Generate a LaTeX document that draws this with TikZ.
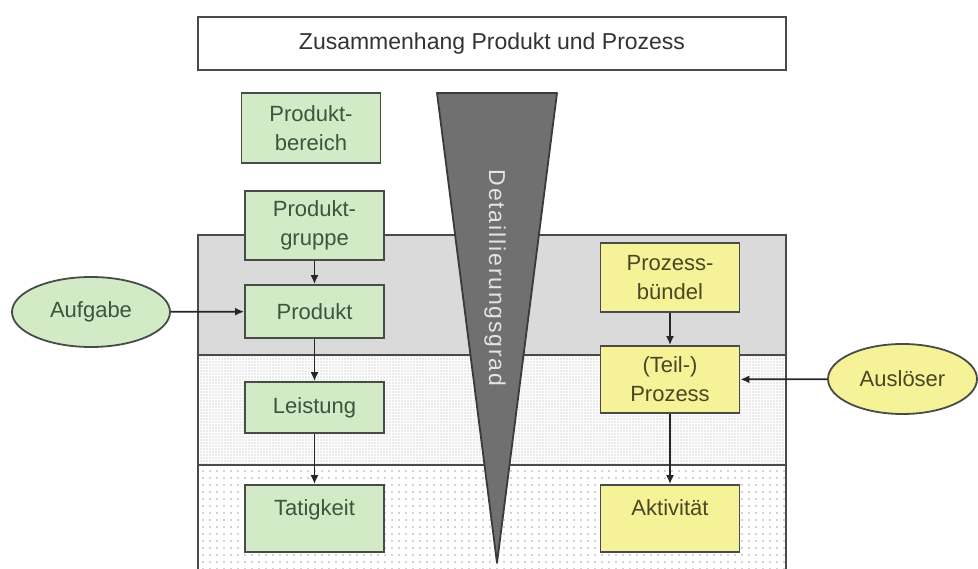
\documentclass[tikz,border=0pt]{standalone}
\usepackage{fontspec}
\setmainfont{Liberation Sans}
\usetikzlibrary{arrows, arrows.meta, shapes.geometric, patterns.meta}
\definecolor{prodgreen}{RGB}{210,234,198}
\definecolor{procyellow}{RGB}{246,242,152}
\definecolor{prodtext}{RGB}{62,84,62}
\definecolor{proctext}{RGB}{72,72,36}
\definecolor{boxline}{RGB}{72,76,72}
\definecolor{bandgray}{RGB}{218,218,218}
\definecolor{dotgray}{RGB}{165,165,165}
\definecolor{wedgegray}{RGB}{112,112,112}
\definecolor{wedgeline}{RGB}{58,58,58}
\definecolor{wedgetext}{RGB}{228,228,228}
\newcommand{\boxfont}{\fontsize{22}{29}\selectfont}

\begin{document}
\begin{tikzpicture}[x=1pt, y=-1pt, >={Latex[length=9pt, width=8pt]},
  prod/.style={draw=boxline, line width=1.8pt, fill=prodgreen, text=prodtext, minimum width=139pt, inner sep=0pt, align=center, font=\boxfont},
  proc/.style={prod, fill=procyellow, text=proctext},
  trigger/.style={ellipse, draw=boxline, line width=1.8pt, inner sep=0pt, minimum height=70pt, font=\boxfont},
  flow/.style={->, line width=1.7pt, draw=black!85}]
\useasboundingbox (0, 0) rectangle (978, 569);
\fill[bandgray] (198, 235) rectangle (786, 355);
\fill[white, postaction={pattern={Dots[distance=3pt, radius=0.7pt]}, pattern color=dotgray}] (198, 355) rectangle (786, 465);
\fill[white, postaction={pattern={Dots[distance=7pt, radius=0.8pt]}, pattern color=dotgray}] (198, 465) rectangle (786, 569);
\draw[boxline, line width=1.8pt] (198, 569) -- (198, 235) -- (786, 235) -- (786, 569);
\draw[boxline, line width=1.8pt] (198, 355) -- (786, 355);
\draw[boxline, line width=1.8pt] (198, 465) -- (786, 465);

\node[draw=boxline, line width=1.8pt, text=black!80, minimum width=588pt, minimum height=53pt, font=\fontsize{23}{28}\selectfont] (title) at (492, 43.5) {Zusammenhang Produkt und Prozess};

\draw[fill=wedgegray, draw=wedgeline, line width=1.8pt, line join=round] (437, 93) -- (557, 93) -- (497, 563) -- cycle;
\node[rotate=-90, text=wedgetext, font=\fontsize{23}{27}\selectfont\addfontfeature{LetterSpace=8}] (grad) at (495, 278) {Detaillierungsgrad};

\node[prod, minimum height=70pt] (bereich) at (311, 128) {Produkt-\\bereich};
\node[prod, minimum height=69pt] (gruppe) at (314.5, 225.5) {Produkt-\\gruppe};
\node[prod, minimum height=53pt] (produkt) at (314.5, 311.5) {Produkt};
\node[prod, minimum height=51pt] (leistung) at (314.5, 407.5) {Leistung};
\node[prod, text height=30pt, text depth=37pt] (taetigkeit) at (314.5, 518.5) {Tatigkeit};

\node[proc, minimum height=69pt] (buendel) at (670, 277.5) {Prozess-\\bündel};
\node[proc, minimum height=67pt] (teilproz) at (670, 379.5) {(Teil-)\\Prozess};
\node[proc, text height=30pt, text depth=37pt] (aktivitaet) at (670, 518.5) {Aktivität};

\node[trigger, fill=prodgreen, text=prodtext, minimum width=158pt] (aufgabe) at (91, 312) {Aufgabe};
\node[trigger, fill=procyellow, text=proctext, minimum width=149pt] (ausloeser) at (902.5, 379) {Auslöser};

\draw[flow] (gruppe) -- (produkt);
\draw[flow] (produkt) -- (leistung);
\draw[flow] (leistung) -- (taetigkeit);
\draw[flow] (buendel) -- (teilproz);
\draw[flow] (teilproz) -- (aktivitaet);
\draw[flow] (aufgabe) -- (produkt);
\draw[flow] (ausloeser) -- (teilproz);
\end{tikzpicture}
\end{document}
